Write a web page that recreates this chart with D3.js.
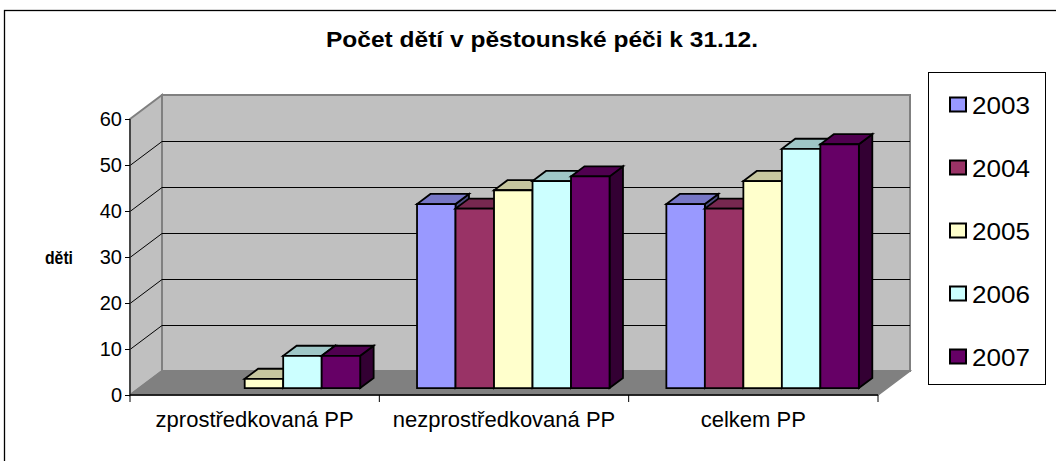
<!DOCTYPE html>
<html>
<head>
<meta charset="utf-8">
<script src="https://cdn.jsdelivr.net/npm/d3@7"></script>
<style>
  html, body { margin: 0; padding: 0; background: #ffffff; }
  text { font-family: "Liberation Sans", Arial, sans-serif; fill: #000; }
</style>
</head>
<body>
<script>
// ---------- data ----------
const categories = ["zprostředkovaná PP", "nezprostředkovaná PP", "celkem PP"];
const years = ["2003", "2004", "2005", "2006", "2007"];
const values2003 = [0, 40, 40];
const values2004 = [0, 39, 39];
const values2005 = [2, 43, 45];
const values2006 = [7, 45, 52];
const values2007 = [7, 46, 53];
const yTicks = [0, 10, 20, 30, 40, 50, 60];
const colors = ["#9999FF", "#993366", "#FFFFCC", "#CCFFFF", "#660066"];
const titleText = "Počet dětí v pěstounské péči k 31.12.";
const yLabel = "děti";

const seriesValues = [values2003, values2004, values2005, values2006, values2007];

// ---------- layout ----------
const W = 1056, H = 461;
const svg = d3.select("body").append("svg").attr("width", W).attr("height", H);

const x0 = d3.scaleBand().domain(categories).range([130, 878]);
const x1 = d3.scaleBand().domain(years).range([0, x0.bandwidth()]).paddingOuter(0.738);
const y = d3.scaleLinear().domain([0, 60]).range([395, 119]);
const DX = 32, DY = -24;           // full depth offset
const D0 = 0.29, D1 = 0.71;        // bar depth span
const P = (x, v, d) => [x + d * DX, y(v) + d * DY];
const poly = pts => "M" + pts.map(p => p.join(",")).join("L") + "Z";
const shade = (c, k) => { const r = d3.rgb(c); return d3.rgb(r.r * k, r.g * k, r.b * k).toString(); };

const xL = x0.range()[0], xR = x0.range()[1];
const vMax = y.domain()[1];

// outer border
svg.append("rect").attr("x", 4.5).attr("y", 10.5).attr("width", 1100).attr("height", 500)
  .attr("fill", "#fff").attr("stroke", "#000").attr("stroke-width", 1.3);

// title
svg.append("text").attr("x", 542).attr("y", 47).attr("text-anchor", "middle")
  .attr("font-size", 22).attr("font-weight", "bold")
  .attr("textLength", 432).attr("lengthAdjust", "spacingAndGlyphs")
  .text(titleText);

// walls
svg.append("path").attr("d", poly([P(xL, vMax, 0), P(xL, vMax, 1), P(xL, 0, 1), P(xL, 0, 0)]))
  .attr("fill", "#C0C0C0").attr("stroke", "#808080").attr("stroke-width", 2);
svg.append("path").attr("d", poly([P(xL, vMax, 1), P(xR, vMax, 1), P(xR, 0, 1), P(xL, 0, 1)]))
  .attr("fill", "#C0C0C0").attr("stroke", "#808080").attr("stroke-width", 2);
svg.append("path").attr("d", poly([P(xL, 0, 0), P(xL, 0, 1), P(xR, 0, 1), P(xR, 0, 0)]))
  .attr("fill", "#808080").attr("stroke", "#808080").attr("stroke-width", 1.5);

// gridlines
svg.append("g").selectAll("path").data(yTicks.filter(t => t > 0 && t < vMax)).join("path")
  .attr("d", t => "M" + P(xL, t, 0).join(",") + "L" + P(xL, t, 1).join(",") + "L" + P(xR, t, 1).join(","))
  .attr("fill", "none").attr("stroke", "#000").attr("stroke-width", 1)
  .attr("transform", "translate(0,0.5)");

// axes lines
svg.append("line").attr("x1", xL).attr("x2", xL).attr("y1", y(vMax)).attr("y2", y(0))
  .attr("stroke", "#333").attr("stroke-width", 1.5);
svg.append("line").attr("x1", xL).attr("x2", xR).attr("y1", y(0)).attr("y2", y(0))
  .attr("stroke", "#000").attr("stroke-width", 1.5);

// y ticks + labels
const yg = svg.append("g");
yg.selectAll("line").data(yTicks).join("line")
  .attr("x1", xL - 5).attr("x2", xL).attr("y1", d => y(d) + 0.5).attr("y2", d => y(d) + 0.5)
  .attr("stroke", "#000").attr("stroke-width", 1);
yg.selectAll("text").data(yTicks).join("text")
  .attr("x", 122).attr("y", d => y(d) + 7).attr("text-anchor", "end")
  .attr("font-size", 20).text(d => d);

// x ticks + labels
const xBounds = categories.map(c => x0(c)).concat([xR]);
svg.append("g").selectAll("line").data(xBounds).join("line")
  .attr("x1", d => d).attr("x2", d => d).attr("y1", y(0)).attr("y2", y(0) + 7)
  .attr("stroke", "#000").attr("stroke-width", 1);
svg.append("g").selectAll("text").data(categories).join("text")
  .attr("x", c => x0(c) + x0.bandwidth() / 2).attr("y", 427).attr("text-anchor", "middle")
  .attr("font-size", 22).text(c => c);

// y label
svg.append("text").attr("x", 45).attr("y", 264).attr("font-size", 18.5).attr("font-weight", "bold")
  .attr("textLength", 28).attr("lengthAdjust", "spacingAndGlyphs")
  .text(yLabel);

// bars
const bars = [];
categories.forEach((c, ci) => {
  years.forEach((yr, si) => {
    const v = seriesValues[si][ci];
    if (v > 0) bars.push({ c, yr, v, color: colors[si] });
  });
});
const bg = svg.append("g").attr("stroke", "#000").attr("stroke-width", 1.8).attr("stroke-linejoin", "miter");
bars.forEach(b => {
  const xl = x0(b.c) + x1(b.yr), w = x1.bandwidth(), v = b.v;
  const g = bg.append("g");
  g.append("path").attr("d", poly([P(xl + w, 0, D0), P(xl + w, 0, D1), P(xl + w, v, D1), P(xl + w, v, D0)]))
    .attr("fill", shade(b.color, 0.5));
  g.append("path").attr("d", poly([P(xl, v, D0), P(xl + w, v, D0), P(xl + w, v, D1), P(xl, v, D1)]))
    .attr("fill", shade(b.color, 0.78));
  g.append("path").attr("d", poly([P(xl, 0, D0), P(xl + w, 0, D0), P(xl + w, v, D0), P(xl, v, D0)]))
    .attr("fill", b.color);
});

// legend
const lg = svg.append("g");
lg.append("rect").attr("x", 928.5).attr("y", 72.5).attr("width", 117).attr("height", 312)
  .attr("fill", "#fff").attr("stroke", "#000").attr("stroke-width", 1);
const items = lg.selectAll("g.item").data(years).join("g").attr("class", "item")
  .attr("transform", (d, i) => `translate(0,${105 + i * 63})`);
items.append("rect").attr("x", 950).attr("y", -7.5).attr("width", 16).attr("height", 14)
  .attr("fill", (d, i) => colors[i]).attr("stroke", "#000").attr("stroke-width", 2);
items.append("text").attr("x", 972).attr("y", 8.5).attr("font-size", 24)
  .attr("textLength", 58).attr("lengthAdjust", "spacingAndGlyphs").text(d => d);
</script>
</body>
</html>
